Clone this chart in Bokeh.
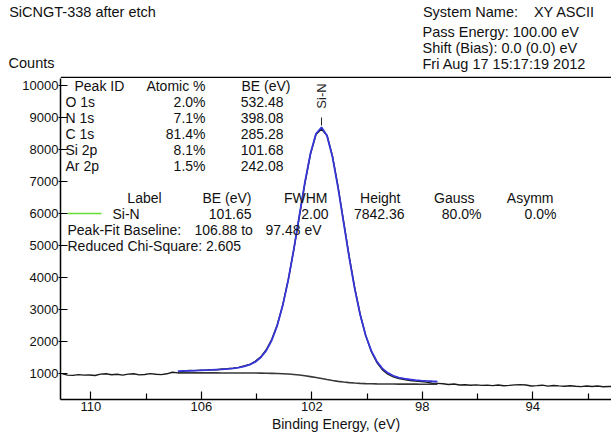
import math
from bokeh.plotting import figure
from bokeh.layouts import column
from bokeh.models import Range1d, FixedTicker, Label, LinearAxis
from bokeh.embed import file_html
from bokeh.resources import INLINE

FONT = "Liberation Sans"

# ---------------- data ----------------
raw_be = [111.05, 110.85, 110.65, 110.45, 110.25, 110.05, 109.85, 109.65, 109.45, 109.25,
          109.05, 108.85, 108.65, 108.45, 108.25, 108.05, 107.85, 107.65, 107.45, 107.25,
          107.05, 106.85, 106.65, 106.45, 106.25, 106.05, 105.85, 105.65, 105.45, 105.25,
          105.05, 104.85, 104.65, 104.45, 104.25, 104.05, 103.85, 103.65, 103.45, 103.25,
          103.05, 102.85, 102.65, 102.45, 102.25, 102.05, 101.85, 101.65, 101.45, 101.25,
          101.05, 100.85, 100.65, 100.45, 100.25, 100.05, 99.85, 99.65, 99.45, 99.25,
          99.05, 98.85, 98.65, 98.45, 98.25, 98.05, 97.85, 97.65, 97.45, 97.25,
          97.05, 96.85, 96.65, 96.45, 96.25, 96.05, 95.85, 95.65, 95.45, 95.25,
          95.05, 94.85, 94.65, 94.45, 94.25, 94.05, 93.85, 93.65, 93.45, 93.25,
          93.05, 92.85, 92.65, 92.45, 92.25, 92.05, 91.85, 91.65, 91.45, 91.25, 91.05]
raw_counts = [1005, 960, 950, 975, 958, 965, 948, 990, 1000, 972,
              985, 960, 990, 1002, 968, 980, 1005, 985, 975, 1000,
              1050, 1030, 1085, 1102, 1098, 1115, 1108, 1130, 1125, 1150,
              1160, 1175, 1200, 1245, 1290, 1390, 1530, 1750, 2080, 2530,
              3160, 3950, 4890, 5920, 6950, 7850, 8470, 8640, 8440, 7790,
              6840, 5760, 4680, 3700, 2860, 2200, 1700, 1360, 1130, 990,
              905, 850, 820, 790, 775, 760, 740, 705, 700, 690,
              665, 680, 650, 660, 642, 655, 640, 648, 632, 650,
              628, 640, 655, 662, 650, 620, 630, 645, 615, 635,
              622, 610, 628, 612, 600, 618, 605, 620, 598, 605, 600]

fit_be = [106.85, 106.65, 106.45, 106.25, 106.05, 105.85, 105.65, 105.45, 105.25, 105.05,
          104.85, 104.65, 104.45, 104.25, 104.05, 103.85, 103.65, 103.45, 103.25, 103.05,
          102.85, 102.65, 102.45, 102.25, 102.05, 101.85, 101.65, 101.45, 101.25, 101.05,
          100.85, 100.65, 100.45, 100.25, 100.05, 99.85, 99.65, 99.45, 99.25, 99.05,
          98.85, 98.65, 98.45, 98.25, 98.05, 97.85, 97.65, 97.45]
envelope_counts = [1086, 1090, 1094, 1100, 1106, 1113, 1120, 1130, 1140, 1154,
                   1171, 1195, 1230, 1284, 1371, 1509, 1725, 2049, 2514, 3145,
                   3948, 4900, 5943, 6981, 7879, 8493, 8694, 8431, 7758, 6807,
                   5725, 4646, 3666, 2843, 2198, 1723, 1391, 1171, 1029, 940,
                   884, 847, 822, 804, 789, 778, 768, 759]
baseline_counts = [1030, 1030, 1029, 1029, 1029, 1029, 1028, 1028, 1027, 1027,
                   1026, 1026, 1025, 1024, 1023, 1021, 1019, 1015, 1010, 1003,
                   993, 979, 961, 939, 912, 883, 852, 821, 791, 765,
                   743, 725, 711, 701, 694, 689, 685, 683, 681, 680,
                   679, 678, 677, 677, 676, 676, 676, 675]

x_major = [110, 106, 102, 98, 94]
x_minor = [108, 104, 100, 96, 92]
y_ticks = [1000, 2000, 3000, 4000, 5000, 6000, 7000, 8000, 9000, 10000]

peak_ids = ["O 1s", "N 1s", "C 1s", "Si 2p", "Ar 2p"]
atomic_pct = ["2.0%", "7.1%", "81.4%", "8.1%", "1.5%"]
peak_be = ["532.48", "398.08", "285.28", "101.68", "242.08"]

comp_label = "Si-N"
comp_be = 101.65
comp_fwhm = 2.00
comp_height = 7842.36
comp_gauss = 80.0
comp_asymm = 0.0
baseline_from = 106.88
baseline_to = 97.48
chi_square = 2.605

sample_title = "SiCNGT-338 after etch"
y_title = "Counts"
system_name = "XY ASCII"
pass_energy = "100.00 eV"
shift_bias = "0.0 (0.0) eV"
acq_date = "Fri Aug 17 15:17:19 2012"

# ---------------- layout ----------------
HEAD_H = 78
HEAD_TOP = 20
W, H = 611, 434
X0, X1 = 111.1, 91.15
Y0, Y1 = 198, 10219
# plot frame in page pixels: left 60, right 611, top 78, bottom 399
FL, FR, FT, FB = 60.0, 611.0, 78.0, 399.0
HS = "14.5px"


def dx(px):
    return X0 + (px - FL) * (X1 - X0) / (FR - FL)


def dy(py):
    return Y1 - (py - FT) * (Y1 - Y0) / (FB - FT)


# ---- header strip: frame aligned with the plot frame, data units = page pixels ----
hf = figure(width=W, height=HEAD_H, x_range=Range1d(FL, FR), y_range=Range1d(HEAD_H, HEAD_TOP),
            output_backend="svg", toolbar_location=None, x_axis_type=None,
            min_border_left=60, min_border_right=0, min_border_top=HEAD_TOP, min_border_bottom=0,
            background_fill_color="white", border_fill_color="white")
hf.grid.visible = False
hf.outline_line_color = None

# first header line: texts carried by a bare axis above the strip
row1_pos = [82, 470, 564]
row1_txt = [sample_title, "System Name:", system_name]
top_axis = LinearAxis(ticker=FixedTicker(ticks=row1_pos),
                      major_label_overrides={k: v for k, v in zip(row1_pos, row1_txt)},
                      axis_line_color=None, major_tick_line_color=None, minor_tick_line_color=None,
                      major_tick_in=0, major_tick_out=0, major_label_standoff=2,
                      major_label_text_font=FONT, major_label_text_font_size=HS,
                      major_label_text_color="#111111")
hf.add_layout(top_axis, "above")

# "Counts" carried by the strip's bare left axis
ha = hf.yaxis[0]
ha.ticker = FixedTicker(ticks=[62])
ha.major_label_overrides = {62: y_title}
ha.axis_line_color = None
ha.major_tick_line_color = None
ha.minor_tick_line_color = None
ha.major_tick_in = 0
ha.major_tick_out = 0
ha.major_label_standoff = 6
ha.major_label_text_font = FONT
ha.major_label_text_font_size = HS
ha.major_label_text_color = "#111111"

hf.segment(x0=[FL], y0=[77], x1=[FR], y1=[77], line_color="black", line_width=1.5)


def htxt(s, px, py):
    hf.add_layout(Label(x=px, y=py, text=s, text_align="left", text_baseline="middle",
                        text_font=FONT, text_font_size=HS, text_color="#111111"))


htxt("Pass Energy: " + pass_energy, 422, 30.5)
htxt("Shift (Bias):", 422, 47)
htxt(shift_bias, 501, 47)
htxt(acq_date, 422, 63.5)

# ---- main plot ----
p = figure(width=W, height=H - HEAD_H, x_range=Range1d(X0, X1), y_range=Range1d(Y0, Y1),
           output_backend="svg", toolbar_location=None,
           min_border_left=60, min_border_right=0, min_border_top=0, min_border_bottom=35,
           background_fill_color="white", border_fill_color="white")
p.grid.visible = False
p.outline_line_color = None

xa = p.xaxis[0]
xa.ticker = FixedTicker(ticks=x_major, minor_ticks=x_minor)
xa.major_tick_in = 8
xa.major_tick_out = 0
xa.minor_tick_in = 6
xa.minor_tick_out = 0
xa.axis_line_width = 1.5
xa.major_tick_line_width = 1.2
xa.minor_tick_line_width = 1.2
xa.major_label_standoff = 2
xa.major_label_text_font = FONT
xa.major_label_text_font_size = "13px"
xa.major_label_text_color = "#111111"
xa.axis_label = "Binding Energy, (eV)"
xa.axis_label_text_font = FONT
xa.axis_label_text_font_size = "14px"
xa.axis_label_text_font_style = "normal"
xa.axis_label_text_color = "#111111"
xa.axis_label_standoff = 2

ya = p.yaxis[0]
ya.ticker = FixedTicker(ticks=y_ticks)
ya.major_tick_in = 7
ya.major_tick_out = 2
ya.minor_tick_line_color = None
ya.axis_line_width = 1.5
ya.major_tick_line_width = 1.2
ya.major_label_standoff = 0
ya.major_label_text_font = FONT
ya.major_label_text_font_size = "13px"
ya.major_label_text_color = "#111111"

# curves
p.line(raw_be, raw_counts, line_color="#1a1a1a", line_width=1.4)
p.line(fit_be, baseline_counts, line_color="#383838", line_width=1.6)
p.line(fit_be, envelope_counts, line_color="#3535d8", line_width=1.8)

# component marker
p.segment(x0=[comp_be], y0=[dy(117)], x1=[comp_be], y1=[dy(125)], line_color="#222222", line_width=1)
p.add_layout(Label(x=comp_be, y=dy(95.5), text=comp_label, angle=math.pi / 2,
                   text_align="center", text_baseline="middle", text_font=FONT,
                   text_font_size="13px", text_color="#222222"))


def txt(s, px, py, align="left", size="14px"):
    p.add_layout(Label(x=dx(px), y=dy(py), text=s, text_align=align, text_baseline="middle",
                       text_font=FONT, text_font_size=size, text_color="#111111"))


# peak table
txt("Peak ID", 74, 85)
txt("Atomic %", 205, 85, "right")
txt("BE (eV)", 290, 85, "right")
for i, (name, pct, be) in enumerate(zip(peak_ids, atomic_pct, peak_be)):
    yy = 101 + 16 * i
    txt(name, 65, yy)
    txt(pct, 205, yy, "right")
    txt(be, 283, yy, "right")

# component table
txt("Label", 144, 197, "center")
txt("BE (eV)", 251, 197, "right")
txt("FWHM", 327, 197, "right")
txt("Height", 400, 197, "right")
txt("Gauss", 474, 197, "right")
txt("Asymm", 553, 197, "right")
p.segment(x0=[dx(67)], y0=[dy(213)], x1=[dx(101)], y1=[dy(213)], line_color="#66dd33", line_width=1.5)
txt(comp_label, 112, 213)
txt(f"{comp_be:.2f}", 251, 213, "right")
txt(f"{comp_fwhm:.2f}", 328, 213, "right")
txt(f"{comp_height:.2f}", 404, 213, "right")
txt(f"{comp_gauss:.1f}%", 481, 213, "right")
txt(f"{comp_asymm:.1f}%", 556, 213, "right")
txt("Peak-Fit Baseline:", 67, 229.5)
txt(f"{baseline_from:.2f} to", 194, 229.5)
txt(f"{baseline_to:.2f} eV", 265, 229.5)
txt(f"Reduced Chi-Square: {chi_square:.3f}", 67, 245.5)

layout = column(hf, p, spacing=0)
open("out.html", "w").write(file_html(layout, INLINE))
